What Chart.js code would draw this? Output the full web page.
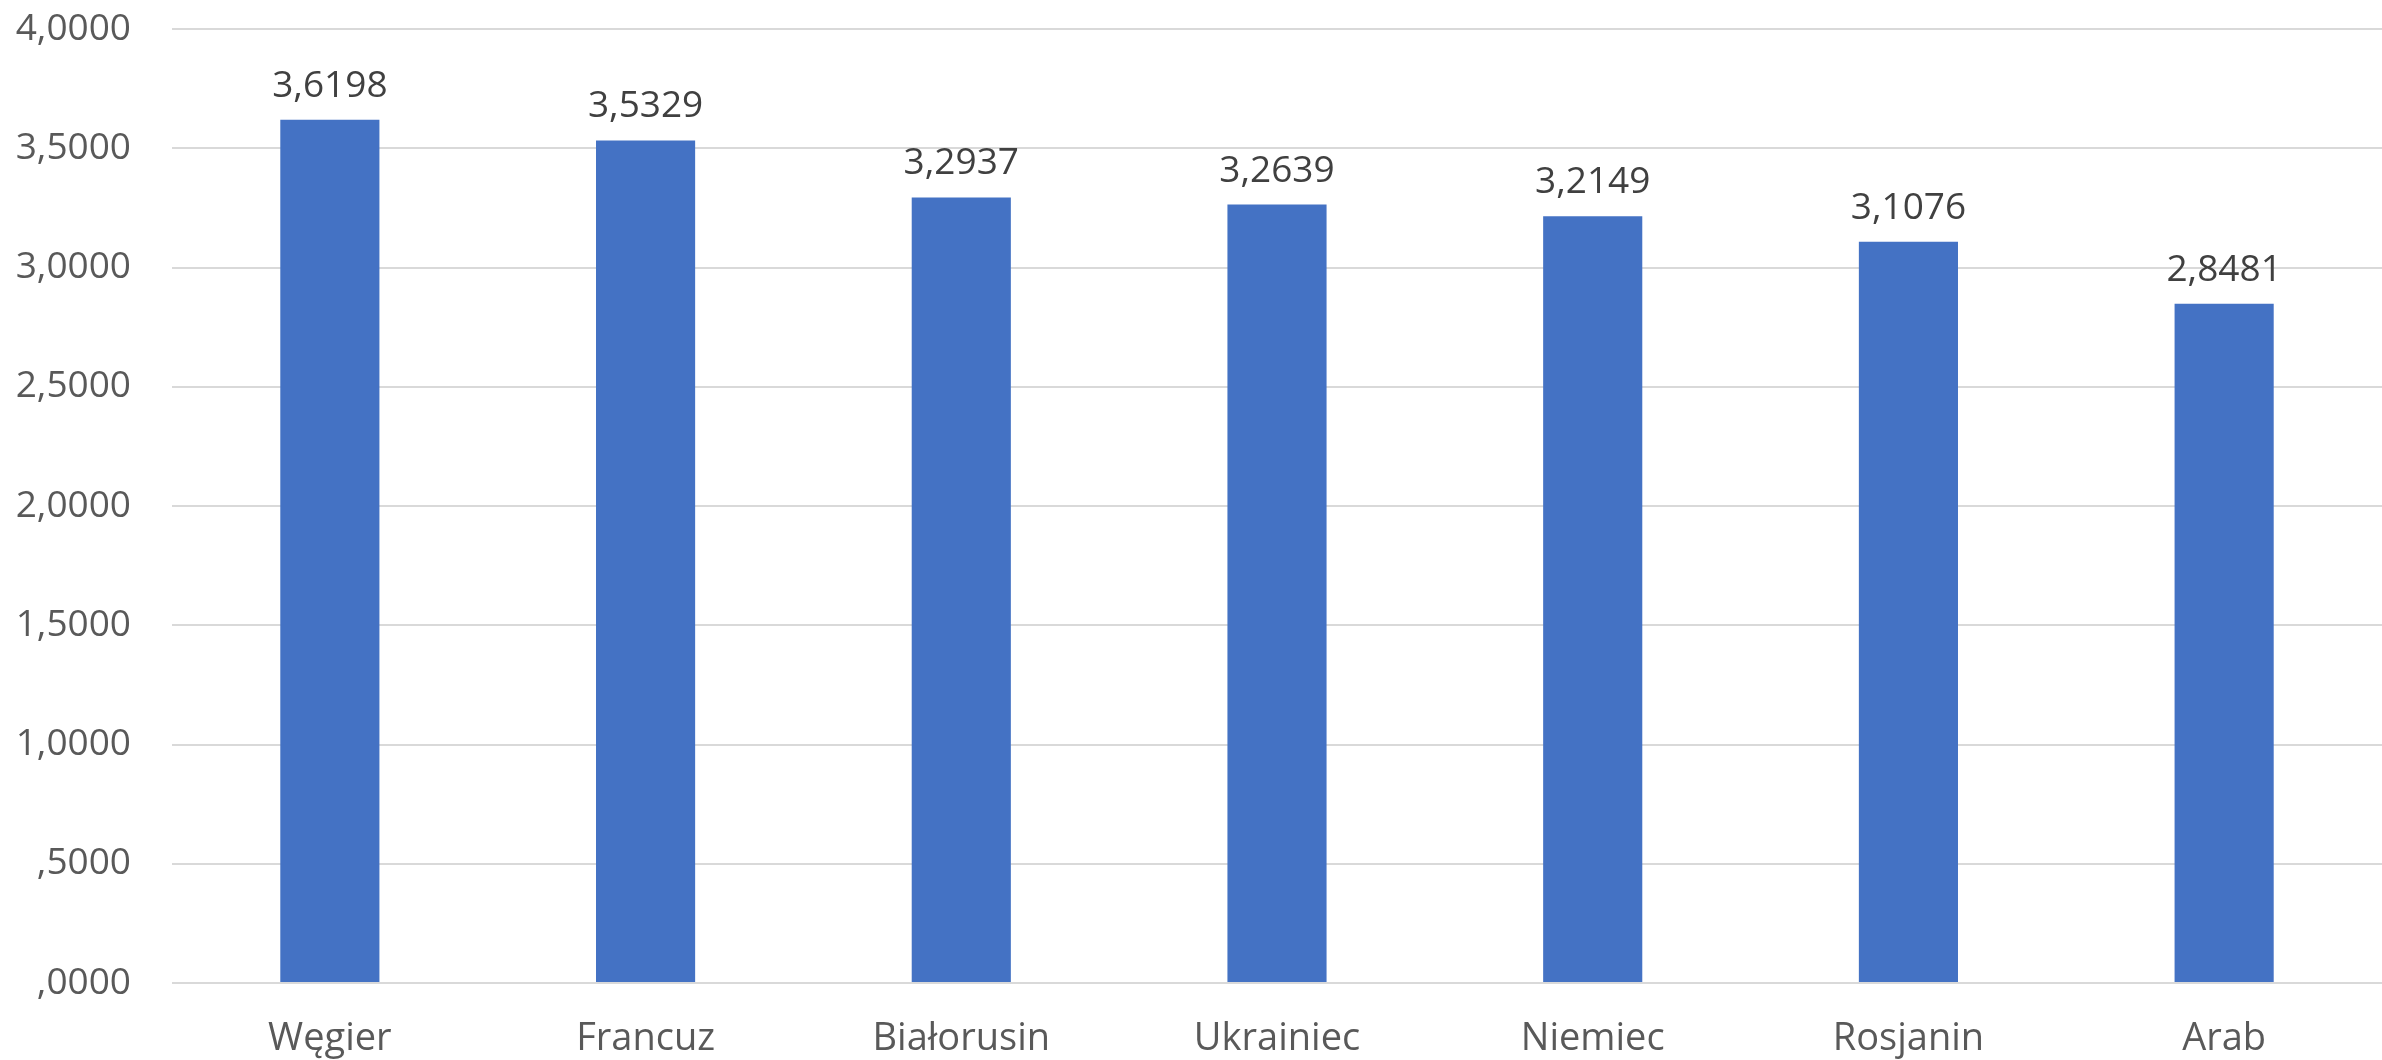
<!DOCTYPE html>
<html>
<head>
<meta charset="utf-8">
<script src="https://cdn.jsdelivr.net/npm/chart.js@4"></script>
<style>
  html, body { margin: 0; padding: 0; background: #fff; }
  #wrap { width: 2382px; height: 1060px; }
</style>
</head>
<body>
<div id="wrap"><canvas id="chart" width="2382" height="1060"></canvas></div>
<script>
var categories = ['Węgier', 'Francuz', 'Białorusin', 'Ukrainiec', 'Niemiec', 'Rosjanin', 'Arab'];
var values = [3.6198, 3.5329, 3.2937, 3.2639, 3.2149, 3.1076, 2.8481];
var yTicks = [0, 0.5, 1, 1.5, 2, 2.5, 3, 3.5, 4];

function fmt(v) {
    var s = v.toFixed(4).replace('.', ',');
    if (s.indexOf('0,') === 0) s = s.substring(1);
    return s;
}

// etykiety nad słupkami
var valueLabels = {
    id: 'valueLabels',
    afterDatasetsDraw: function(chart) {
        var ctx = chart.ctx;
        var meta = chart.getDatasetMeta(0);
        ctx.save();
        ctx.font = '37px "Open Sans"';
        ctx.fillStyle = '#404040';
        ctx.textAlign = 'center';
        ctx.textBaseline = 'alphabetic';
        meta.data.forEach(function(bar, i) {
            ctx.fillText(fmt(values[i]), bar.x, bar.y - 23);
        });
        ctx.restore();
    }
};

var ctx = document.getElementById('chart').getContext('2d');
var chart = new Chart(ctx, {
    type: 'bar',
    data: {
        labels: categories,
        datasets: [{
            data: values,
            backgroundColor: '#4472C4',
            borderWidth: 0,
            categoryPercentage: 1,
            barPercentage: 0.314
        }]
    },
    options: {
        responsive: false,
        animation: false,
        layout: { padding: { top: 29, right: 0, bottom: 0, left: 0 } },
        plugins: {
            legend: { display: false },
            tooltip: { enabled: false }
        },
        scales: {
            x: {
                grid: { display: false },
                border: { display: false },
                ticks: {
                    color: '#595959',
                    font: { family: 'Open Sans', size: 38 },
                    padding: 25,
                    maxRotation: 0
                },
                afterFit: function(axis) {
                    axis.height = 77;
                    axis.paddingLeft = 0;
                    axis.paddingRight = 0;
                }
            },
            y: {
                min: 0,
                max: 4,
                afterBuildTicks: function(axis) {
                    axis.ticks = yTicks.map(function(v) { return { value: v }; });
                },
                grid: { color: '#D9D9D9', lineWidth: 2, drawTicks: false },
                border: { display: false },
                ticks: {
                    color: '#595959',
                    font: { family: 'Open Sans', size: 37 },
                    padding: 41,
                    callback: function(v) { return fmt(v); }
                },
                afterFit: function(axis) {
                    axis.width = 172;
                    axis.paddingTop = 0;
                    axis.paddingBottom = 0;
                }
            }
        }
    },
    plugins: [valueLabels]
});
</script>
</body>
</html>
